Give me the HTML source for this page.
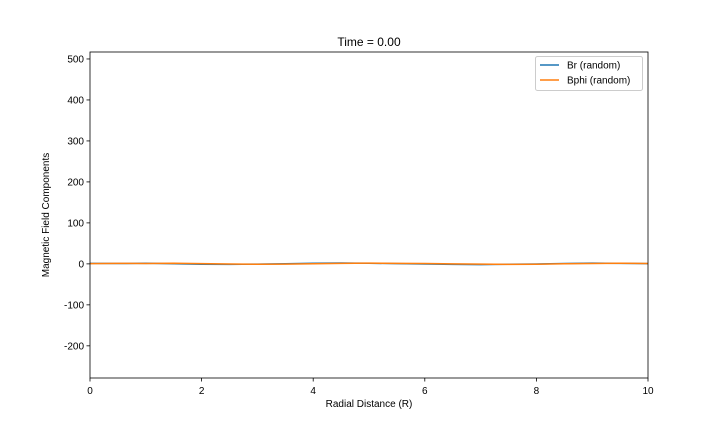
<!DOCTYPE html>
<html><head><meta charset="utf-8"><style>
body{margin:0;background:#fff;}
svg{display:block;font-family:"Liberation Sans",sans-serif;}
</style></head><body>
<svg id="chart" width="720" height="432">
<rect width="720" height="432" fill="#fff"/>
</svg>
<script>
const xs=[0,0.5,1,1.5,2,2.5,3,3.5,4,4.5,5,5.5,6,6.5,7,7.5,8,8.5,9,9.5,10];
const brVals=[1.2,0.8,1.5,0.3,-0.8,-1.2,-0.5,0.4,1.6,2.2,1.4,0.6,-0.3,-1.1,-1.8,-1.0,-0.2,0.9,1.7,1.1,0.5];
const bphiVals=[0.5,1.3,0.9,1.6,0.7,-0.4,-1.0,-0.6,0.3,1.1,1.8,1.2,1.0,0.1,-0.7,-1.3,-0.9,0.2,0.8,1.5,1.0];
const xTicks=[0,2,4,6,8,10];
const yTicks=[-200,-100,0,100,200,300,400,500];
const seriesNames=["Br (random)","Bphi (random)"];
const colors=["#1f77b4","#ff7f0e"];
const L=90,R=648,T=52,B=378,ymin=-278.5,ymax=517;
const sx=v=>L+(v-0)/(10-0)*(R-L);
const sy=v=>B-(v-ymin)/(ymax-ymin)*(B-T);
const svg=document.getElementById('chart');
const NS="http://www.w3.org/2000/svg";
function mk(tag,attrs,parent){const e=document.createElementNS(NS,tag);for(const k in attrs)e.setAttribute(k,attrs[k]);(parent||svg).appendChild(e);return e;}
[brVals,bphiVals].forEach((vals,i)=>{
  const p=mk('polyline',{points:xs.map((x,j)=>sx(x)+','+sy(vals[j])).join(' '),fill:'none',stroke:colors[i],'stroke-width':1.5});
  
  
});
const frame=mk('rect',{x:L,y:T,width:R-L,height:B-T,fill:'none',stroke:'#000','stroke-width':0.8});


xTicks.forEach(t=>{
  mk('line',{x1:sx(t),x2:sx(t),y1:B,y2:B+3.5,stroke:'#000','stroke-width':0.8});
  const tx=mk('text',{x:sx(t),y:B+16,'text-anchor':'middle','font-size':10});
  tx.textContent=t;
  
  
});
yTicks.forEach(t=>{
  mk('line',{x1:L-3.5,x2:L,y1:sy(t),y2:sy(t),stroke:'#000','stroke-width':0.8});
  const tx=mk('text',{x:L-6,y:sy(t)+3.5,'text-anchor':'end','font-size':10});
  tx.textContent=t;
  
  
});
</script>
<svg width="720" height="432" style="position:absolute;left:0;top:0;font-family:'Liberation Sans',sans-serif">
<text x="369" y="46" text-anchor="middle" font-size="12">Time = 0.00</text>
<text x="369" y="407" text-anchor="middle" font-size="10">Radial Distance (R)</text>
<text transform="translate(49,215) rotate(-90)" text-anchor="middle" font-size="10">Magnetic Field Components</text>
<g>
<rect x="535.5" y="56.5" width="107" height="34" rx="2" fill="#fff" fill-opacity="0.8" stroke="#ccc"/>
<g><line x1="540" x2="559" y1="65" y2="65" stroke="#1f77b4" stroke-width="1.5"/><text x="567" y="68.5" font-size="10">Br (random)</text></g>
<g><line x1="540" x2="559" y1="80" y2="80" stroke="#ff7f0e" stroke-width="1.5"/><text x="567" y="83.5" font-size="10">Bphi (random)</text></g>
</g>
</svg>
</body></html>
